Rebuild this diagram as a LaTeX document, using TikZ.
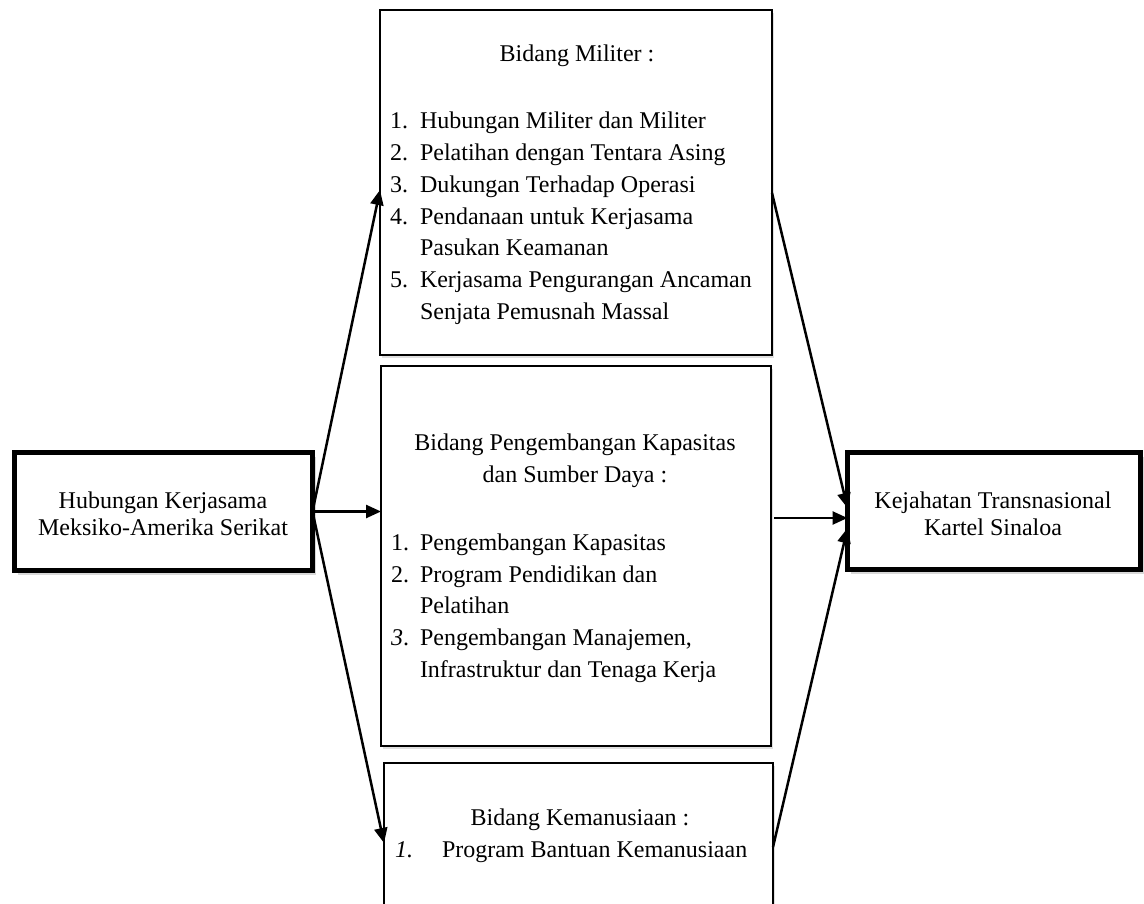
\documentclass[tikz,border=0pt]{standalone}
\usepackage{fontspec}
\setmainfont{Liberation Serif}
\usetikzlibrary{arrows.meta,shadows,calc}
\begin{document}
\begin{tikzpicture}[x=1pt,y=-1pt,
  every node/.style={inner sep=0pt,outer sep=0pt},
  txt/.style={font=\fontsize{24}{27}\selectfont},
  thinbox/.style={draw=black,line width=2pt,fill=white,rectangle,
    drop shadow={shadow xshift=2pt,shadow yshift=-3pt,opacity=0.25}},
  thickbox/.style={draw=black,line width=5pt,fill=white,rectangle,
    drop shadow={shadow xshift=3pt,shadow yshift=-4pt,opacity=0.3}},
  arr/.style={line width=2.5pt,-{Triangle[length=15pt,width=13pt]}},
  ln/.style={line width=2.5pt}
]
\useasboundingbox (0,0) rectangle (1144,904);
\fill[white] (0,0) rectangle (1144,904);

% boxes
\node[thickbox,minimum width=298pt,minimum height=118pt] (left) at (163.5,511.5) {};
\node[thickbox,minimum width=293pt,minimum height=117pt] (kej) at (994,511) {};
\node[thinbox,minimum width=392pt,minimum height=345pt] (mil) at (576,182.5) {};
\node[thinbox,minimum width=390pt,minimum height=380pt] (dev) at (576,556) {};
\node[thinbox,minimum width=389pt,minimum height=160pt] (hum) at (578.5,843) {};

% left / right texts
\node[txt,anchor=base] (l1) at (163,508) {Hubungan Kerjasama};
\node[txt,anchor=base] (l2) at (163,535) {Meksiko-Amerika Serikat};
\node[txt,anchor=base] (r1) at (993,508) {Kejahatan Transnasional};
\node[txt,anchor=base] (r2) at (993,535) {Kartel Sinaloa};

% military box
\node[txt,anchor=base] (mh) at (577,62) {Bidang Militer :};
\node[txt,anchor=base west] (mn1) at (390,129) {1.};
\node[txt,anchor=base west] (mt1) at (420,129) {Hubungan Militer dan Militer};
\node[txt,anchor=base west] (mn2) at (390,160.7) {2.};
\node[txt,anchor=base west] (mt2) at (420,160.7) {Pelatihan dengan Tentara Asing};
\node[txt,anchor=base west] (mn3) at (390,192.4) {3.};
\node[txt,anchor=base west] (mt3) at (420,192.4) {Dukungan Terhadap Operasi};
\node[txt,anchor=base west] (mn4) at (390,224.1) {4.};
\node[txt,anchor=base west] (mt4) at (420,224.1) {Pendanaan untuk Kerjasama};
\node[txt,anchor=base west] (mt4b) at (420,255.8) {Pasukan Keamanan};
\node[txt,anchor=base west] (mn5) at (390,287.5) {5.};
\node[txt,anchor=base west] (mt5) at (420,287.5) {Kerjasama Pengurangan Ancaman};
\node[txt,anchor=base west] (mt5b) at (420,319.2) {Senjata Pemusnah Massal};

% development box
\node[txt,anchor=base] (dh1) at (575,450) {Bidang Pengembangan Kapasitas};
\node[txt,anchor=base] (dh2) at (575,482) {dan Sumber Daya :};
\node[txt,anchor=base west] (dn1) at (391,550) {1.};
\node[txt,anchor=base west] (dt1) at (420,550) {Pengembangan Kapasitas};
\node[txt,anchor=base west] (dn2) at (391,582) {2.};
\node[txt,anchor=base west] (dt2) at (420,582) {Program Pendidikan dan};
\node[txt,anchor=base west] (dt2b) at (420,613.5) {Pelatihan};
\node[txt,anchor=base west] (dn3) at (391,645.5) {\textit{3}.};
\node[txt,anchor=base west] (dt3) at (420,645.5) {Pengembangan Manajemen,};
\node[txt,anchor=base west] (dt3b) at (420,677) {Infrastruktur dan Tenaga Kerja};

% humanitarian box
\node[txt,anchor=base] (hh) at (580,825) {Bidang Kemanusiaan :};
\node[txt,anchor=base west] (hn1) at (395,857) {\textit{1.}};
\node[txt,anchor=base west] (ht1) at (442,857) {Program Bantuan Kemanusiaan};

% connectors
\draw[arr] (left.east) -- ([yshift=-7.5pt]mil.west);
\draw[arr] (left.east) -- (left.east -| dev.west);
\draw[arr] (left.east) -- (hum.west);

\coordinate (hr) at ([yshift=-7pt]kej.west);
\draw[arr] ([yshift=-10.5pt]mil.east) -- ([yshift=3pt]kej.west);
\draw[arr,shorten <=3pt] (hr -| dev.east) -- (hr);
\draw[arr] ([yshift=-4pt]hum.east) -- ([yshift=-17pt]kej.west);
\end{tikzpicture}
\end{document}
